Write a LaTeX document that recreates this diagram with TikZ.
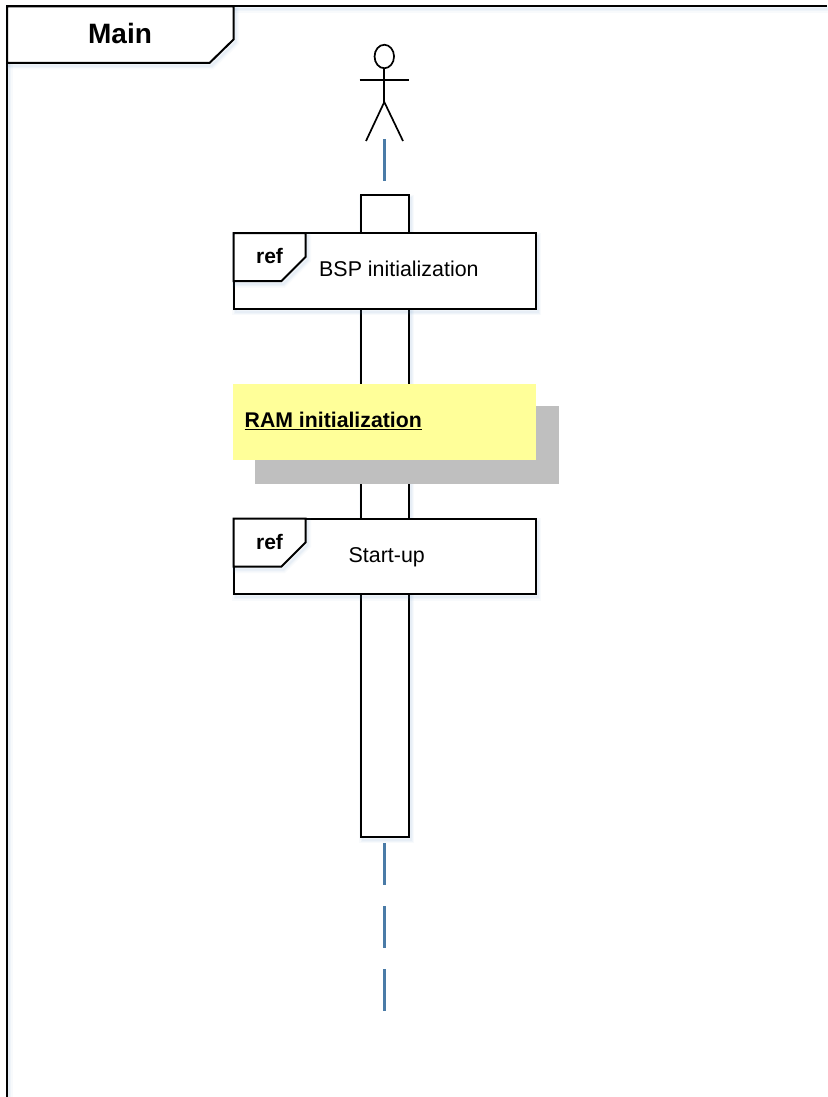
\documentclass[tikz,border=0pt]{standalone}
\usepackage{fontspec}
\usetikzlibrary{shapes.geometric}
\setmainfont{Liberation Sans}
\definecolor{lifeblue}{HTML}{4A7BA7}
\definecolor{notey}{HTML}{FFFF99}
\definecolor{noteshadow}{HTML}{BFBFBF}
\definecolor{glowblue}{HTML}{5B8FC7}
\newcommand{\ulbold}[1]{\underline{#1}}
\tikzset{
  x=1pt,y=-1pt,
  ink/.style={draw=black,line width=2pt,line join=miter},
  glow/.style={
    preaction={draw=glowblue,draw opacity=.04,line width=7pt,transform canvas={shift={(2pt,-3pt)}}},
    preaction={draw=glowblue,draw opacity=.05,line width=4pt,transform canvas={shift={(2pt,-3pt)}}},
    preaction={draw=glowblue,draw opacity=.05,line width=2pt,transform canvas={shift={(2pt,-3pt)}}}},
  refbox/.style={ink,glow,fill=white,rectangle,minimum width=302pt,minimum height=75.5pt,inner sep=0pt,outer sep=0pt,anchor=north west},
  bar/.style={ink,glow,fill=white,rectangle,minimum width=48pt,minimum height=641.5pt,inner sep=0pt,outer sep=0pt,anchor=north west},
  reflabel/.style={font=\fontsize{21}{24}\selectfont\bfseries,inner sep=0pt},
  plainlabel/.style={font=\fontsize{21.4}{24}\selectfont,inner sep=0pt},
  lifeline/.style={draw=lifeblue,line width=2.4pt,dash pattern=on 41.5pt off 21.5pt},
  stick/.style={draw=black,line width=1.7pt},
}
\begin{document}
\begin{tikzpicture}
\useasboundingbox (0,0) rectangle (827,1097);
\fill[white] (0,0) rectangle (827,1097);
% frame
\draw[ink,glow] (7,1097) -- (7,6.5) -- (827,6.5);
\draw[ink,glow,fill=white] (7,6.5) -- (233.5,6.5) -- (233.5,39.5) -- (209.5,63) -- (7,63) -- cycle;
\node[font=\fontsize{28}{32}\selectfont\bfseries,inner sep=0pt,anchor=base] (mainlabel) at (120,43.5) {Main};
% actor
\node[stick,ellipse,minimum width=19.5pt,minimum height=23.5pt,inner sep=0pt,outer sep=0pt] (head) at (384.3,56.5) {};
\coordinate (hip) at (384.3,102);
\coordinate (armL) at (359.5,80);
\coordinate (armR) at (409,80);
\coordinate (legL) at (366,141);
\coordinate (legR) at (403,141);
\draw[stick] (head.south) -- (hip);
\draw[stick] (armL) -- (armR);
\draw[stick] (legL) -- (hip) -- (legR);
% activation
\node[bar] (bar) at (360.5,195) {};
% lifeline pieces
\coordinate (lifeA) at (384.5,139.5);
\coordinate (lifeB) at (384.5,181);
\coordinate (lifeC) at (384.5,843);
\coordinate (lifeD) at (384.5,1011);
\draw[lifeline] (lifeA) -- (lifeB);
\draw[lifeline] (lifeC) -- (lifeD);
% ref 1
\node[refbox] (refA) at (233.5,233) {};
\draw[ink,glow,fill=white] (refA.north west) -- (305.5,233) -- (305.5,257) -- (281.5,281) -- (233.5,281) -- cycle;
\node[reflabel,anchor=base] (refAtag) at (269.5,263.5) {ref};
\node[plainlabel,anchor=base west] (refAtext) at (319,276) {BSP initialization};
% ref 2
\node[refbox] (refB) at (233.5,518.5) {};
\draw[ink,glow,fill=white] (refB.north west) -- (305.5,518.5) -- (305.5,542.5) -- (281.5,566.5) -- (233.5,566.5) -- cycle;
\node[reflabel,anchor=base] (refBtag) at (269.5,549) {ref};
\node[plainlabel,anchor=base west] (refBtext) at (348.5,562) {Start-up};
% note
\node[fill=noteshadow,rectangle,minimum width=304pt,minimum height=77.5pt,inner sep=0pt,anchor=north west] (noteshade) at (254.5,406) {};
\node[fill=notey,rectangle,minimum width=302.5pt,minimum height=76pt,inner sep=0pt,anchor=north west] (note) at (233,384) {};
\node[font=\fontsize{21.25}{24}\selectfont\bfseries,inner sep=0pt,anchor=base west] (notelabel) at (244.5,427.5) {\ulbold{RAM initialization}};
\end{tikzpicture}
\end{document}
